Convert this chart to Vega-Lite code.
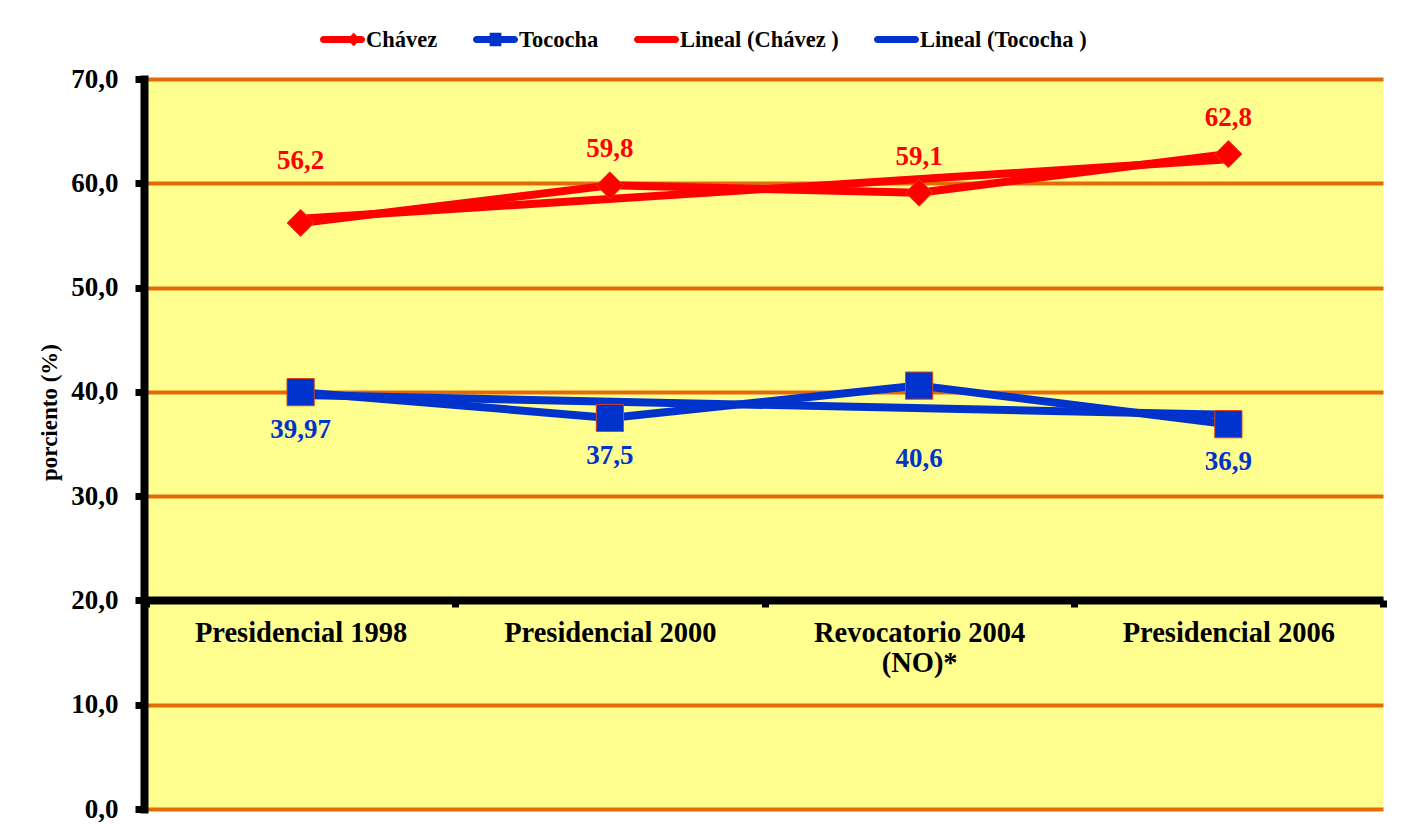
{
  "$schema": "https://vega.github.io/schema/vega-lite/v6.json",
  "width": 1237,
  "height": 730,
  "autosize": {"type": "none"},
  "padding": {"left": 146, "top": 79, "right": 25, "bottom": 20},
  "background": "white",
  "config": {
    "view": {"fill": "#FFFF90", "stroke": null},
    "font": "Liberation Serif",
    "locale": {
      "number": {"decimal": ",", "thousands": ".", "grouping": [3], "currency": ["", ""]}
    }
  },
  "data": {
    "values": [
      {"eleccion": "Presidencial 1998", "serie": "Chávez", "valor": 56.2},
      {"eleccion": "Presidencial 2000", "serie": "Chávez", "valor": 59.8},
      {"eleccion": "Revocatorio 2004 (NO)*", "serie": "Chávez", "valor": 59.1},
      {"eleccion": "Presidencial 2006", "serie": "Chávez", "valor": 62.8},
      {"eleccion": "Presidencial 1998", "serie": "Tococha", "valor": 39.97},
      {"eleccion": "Presidencial 2000", "serie": "Tococha", "valor": 37.5},
      {"eleccion": "Revocatorio 2004 (NO)*", "serie": "Tococha", "valor": 40.6},
      {"eleccion": "Presidencial 2006", "serie": "Tococha", "valor": 36.9},
      {"eleccion": "Presidencial 1998", "serie": "Lineal (Chávez )", "valor": 56.6},
      {"eleccion": "Presidencial 2006", "serie": "Lineal (Chávez )", "valor": 62.3},
      {"eleccion": "Presidencial 1998", "serie": "Lineal (Tococha )", "valor": 39.7},
      {"eleccion": "Presidencial 2006", "serie": "Lineal (Tococha )", "valor": 37.8}
    ]
  },
  "encoding": {
    "x": {
      "field": "eleccion",
      "type": "nominal",
      "sort": ["Presidencial 1998", "Presidencial 2000", "Revocatorio 2004 (NO)*", "Presidencial 2006"],
      "bandPosition": 0.5,
      "scale": {"type": "band", "paddingInner": 0, "paddingOuter": 0},
      "axis": {
        "title": null,
        "orient": "bottom",
        "offset": -209,
        "zindex": 1,
        "grid": false,
        "domainColor": "black",
        "domainWidth": 8,
        "tickBand": "extent",
        "ticks": true,
        "tickColor": "black",
        "tickWidth": 7,
        "tickSize": 7,
        "labelAngle": 0,
        "labelFont": "Liberation Serif",
        "labelFontSize": 28.5,
        "labelFontWeight": "bold",
        "labelColor": "black",
        "labelPadding": 11,
        "labelLimit": 500,
        "labelLineHeight": 30,
        "labelExpr": "datum.label === 'Revocatorio 2004 (NO)*' ? ['Revocatorio 2004', '(NO)*'] : datum.label"
      }
    },
    "y": {
      "field": "valor",
      "type": "quantitative",
      "scale": {"domain": [0, 70], "nice": false},
      "axis": {
        "title": "porciento (%)",
        "values": [0, 10, 20, 30, 40, 50, 60, 70],
        "format": ".1f",
        "offset": 2,
        "domainColor": "black",
        "domainWidth": 8,
        "domainCap": "square",
        "tickColor": "black",
        "tickWidth": 7,
        "tickSize": 9,
        "labelPadding": 17,
        "labelFont": "Liberation Serif",
        "labelFontSize": 27,
        "labelFontWeight": "bold",
        "labelColor": "black",
        "grid": true,
        "gridColor": "#E36C09",
        "gridWidth": 4,
        "gridOpacity": 1,
        "titleFont": "Liberation Serif",
        "titleFontSize": 23,
        "titleFontWeight": "bold",
        "titleColor": "black",
        "titlePadding": 9,
        "titleY": 333
      }
    }
  },
  "layer": [
    {
      "mark": {"type": "line", "strokeWidth": 8, "strokeJoin": "round", "strokeCap": "round"},
      "encoding": {
        "color": {
          "field": "serie",
          "type": "nominal",
          "scale": {
            "domain": ["Chávez", "Tococha", "Lineal (Chávez )", "Lineal (Tococha )"],
            "range": ["#FF0000", "#0033CC", "#FF0000", "#0033CC"]
          },
          "legend": {
            "title": null,
            "orient": "none",
            "legendX": 174,
            "legendY": -62,
            "direction": "horizontal",
            "labelFont": "Liberation Serif",
            "labelFontSize": 22.5,
            "labelFontWeight": "bold",
            "labelColor": "black",
            "labelOffset": 1,
            "labelLimit": 400,
            "columnPadding": 35,
            "symbolSize": 2025,
            "encode": {
              "symbols": {
                "update": {
                  "shape": {"signal": "datum.value === 'Chávez' ? 'M-0.84,-0.16L0.84,-0.16A0.16,0.16,0,0,1,0.84,0.16L-0.84,0.16A0.16,0.16,0,0,1,-0.84,-0.16Z M0.5,-0.3L0.8,0L0.5,0.3L0.2,0Z' : datum.value === 'Tococha' ? 'M-0.84,-0.16L0.84,-0.16A0.16,0.16,0,0,1,0.84,0.16L-0.84,0.16A0.16,0.16,0,0,1,-0.84,-0.16Z M-0.26,-0.3L0.26,-0.3L0.26,0.3L-0.26,0.3Z' : 'M-0.84,-0.16L0.84,-0.16A0.16,0.16,0,0,1,0.84,0.16L-0.84,0.16A0.16,0.16,0,0,1,-0.84,-0.16Z'"},
                  "fill": {"signal": "indexof(datum.value, 'Tococha') >= 0 ? '#0033CC' : '#FF0000'"},
                  "stroke": {"value": "transparent"},
                  "strokeWidth": {"value": 0},
                  "opacity": {"value": 1},
                  "fillOpacity": {"value": 1}
                }
              }
            }
          }
        }
      }
    },
    {
      "transform": [{"filter": "datum.serie === 'Chávez' || datum.serie === 'Tococha'"}],
      "mark": {"type": "point", "filled": true, "opacity": 1, "stroke": "#E04010", "strokeWidth": 1},
      "encoding": {
        "shape": {
          "field": "serie",
          "type": "nominal",
          "scale": {"domain": ["Chávez", "Tococha"], "range": ["diamond", "square"]},
          "legend": null
        },
        "fill": {
          "field": "serie",
          "type": "nominal",
          "scale": {"domain": ["Chávez", "Tococha"], "range": ["#FF0000", "#0033CC"]},
          "legend": null
        },
        "size": {"value": 740}
      }
    },
    {
      "transform": [{"filter": "datum.serie === 'Chávez' && datum.eleccion !== 'Presidencial 1998'"}],
      "mark": {"type": "text", "dy": -36, "font": "Liberation Serif", "fontSize": 27, "fontWeight": "bold", "color": "#FF0000", "baseline": "middle", "align": "center"},
      "encoding": {"text": {"field": "valor", "type": "quantitative", "format": ".4~r"}}
    },
    {
      "transform": [{"filter": "datum.serie === 'Chávez' && datum.eleccion === 'Presidencial 1998'"}],
      "mark": {"type": "text", "dy": -62, "font": "Liberation Serif", "fontSize": 27, "fontWeight": "bold", "color": "#FF0000", "baseline": "middle", "align": "center"},
      "encoding": {"text": {"field": "valor", "type": "quantitative", "format": ".4~r"}}
    },
    {
      "transform": [{"filter": "datum.serie === 'Tococha' && datum.eleccion !== 'Revocatorio 2004 (NO)*'"}],
      "mark": {"type": "text", "dy": 38, "font": "Liberation Serif", "fontSize": 27, "fontWeight": "bold", "color": "#0033CC", "baseline": "middle", "align": "center"},
      "encoding": {"text": {"field": "valor", "type": "quantitative", "format": ".4~r"}}
    },
    {
      "transform": [{"filter": "datum.serie === 'Tococha' && datum.eleccion === 'Revocatorio 2004 (NO)*'"}],
      "mark": {"type": "text", "dy": 73, "font": "Liberation Serif", "fontSize": 27, "fontWeight": "bold", "color": "#0033CC", "baseline": "middle", "align": "center"},
      "encoding": {"text": {"field": "valor", "type": "quantitative", "format": ".4~r"}}
    }
  ]
}
